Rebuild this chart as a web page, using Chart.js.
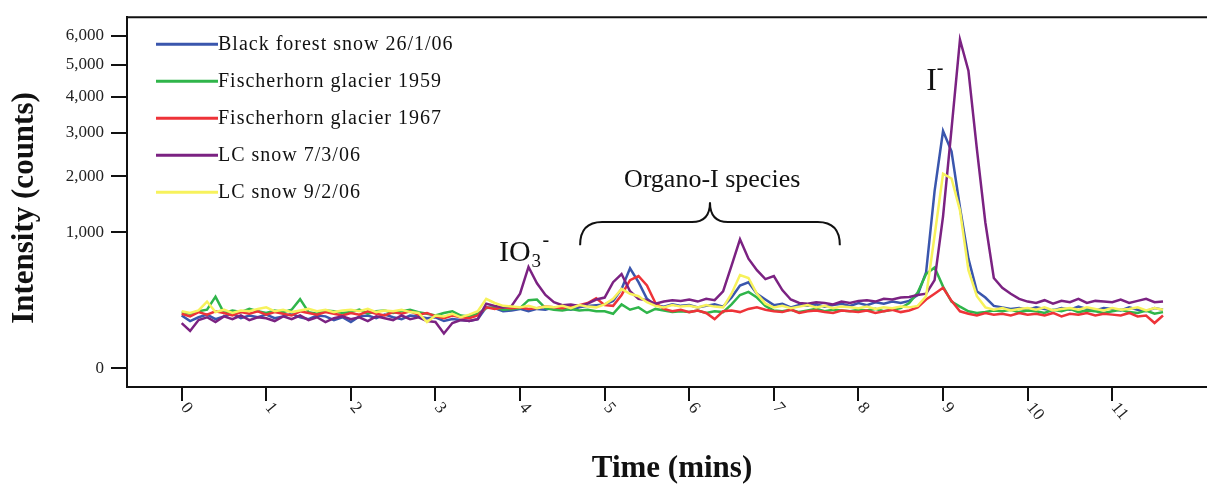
<!DOCTYPE html>
<html>
<head>
<meta charset="utf-8">
<script src="https://cdn.jsdelivr.net/npm/chart.js@4.4.1/dist/chart.umd.min.js"></script>
<style>
    html, body { margin: 0; padding: 0; background: #fff; }
    #wrap { width: 1207px; height: 484px; position: relative; }
</style>
</head>
<body>
<div id="wrap"><canvas id="chart"></canvas></div>
<script>
// retention time (mins)
const times = [
    0.0, 0.1, 0.2, 0.3, 0.4, 0.5, 0.6, 0.7, 0.8, 0.9,
    1.0, 1.1, 1.2, 1.3, 1.4, 1.5, 1.6, 1.7, 1.8, 1.9,
    2.0, 2.1, 2.2, 2.3, 2.4, 2.5, 2.6, 2.7, 2.8, 2.9,
    3.0, 3.1, 3.2, 3.3, 3.4, 3.5, 3.6, 3.7, 3.8, 3.9,
    4.0, 4.1, 4.2, 4.3, 4.4, 4.5, 4.6, 4.7, 4.8, 4.9,
    5.0, 5.1, 5.2, 5.3, 5.4, 5.5, 5.6, 5.7, 5.8, 5.9,
    6.0, 6.1, 6.2, 6.3, 6.4, 6.5, 6.6, 6.7, 6.8, 6.9,
    7.0, 7.1, 7.2, 7.3, 7.4, 7.5, 7.6, 7.7, 7.8, 7.9,
    8.0, 8.1, 8.2, 8.3, 8.4, 8.5, 8.6, 8.7, 8.8, 8.9,
    9.0, 9.1, 9.2, 9.3, 9.4, 9.5, 9.6, 9.7, 9.8, 9.9,
    10.0, 10.1, 10.2, 10.3, 10.4, 10.5, 10.6, 10.7, 10.8, 10.9,
    11.0, 11.1, 11.2, 11.3, 11.4, 11.5, 11.6
];

// intensity (counts)
const blackForest = [
    150, 120, 140, 155, 130, 145, 160, 135, 150, 140,
    155, 135, 145, 160, 140, 130, 150, 145, 125, 140,
    115, 145, 150, 135, 155, 140, 130, 150, 145, 135,
    140, 120, 130, 125, 120, 130, 200, 195, 175, 180,
    190, 175, 190, 185, 200, 195, 185, 200, 210, 215,
    220, 245, 340, 540, 400, 260, 215, 205, 220, 210,
    215, 200, 210, 220, 205, 270, 370, 400, 300, 255,
    215, 225, 200, 215, 210, 220, 205, 215, 225, 210,
    230, 215, 235, 225, 240, 230, 245, 290, 500, 1700,
    3050, 2550, 1400, 650, 320, 270, 210, 200, 190, 195,
    185, 200, 190, 180, 195, 185, 205, 190, 180, 195,
    190, 180, 200, 185, 175, 195, 185
];
const fischerhorn1959 = [
    170, 160, 175, 185, 277, 165, 180, 170, 190, 175,
    165, 180, 170, 185, 258, 170, 160, 180, 175, 165,
    170, 185, 160, 175, 180, 165, 175, 185, 170, 160,
    150, 165, 175, 150, 145, 160, 195, 200, 185, 190,
    195, 250, 255, 195, 185, 180, 190, 180, 185, 175,
    175, 160, 220, 185, 200, 165, 190, 180, 170, 175,
    170, 180, 165, 175, 170, 220, 290, 315, 270, 210,
    180, 175, 185, 170, 180, 190, 175, 185, 180, 175,
    185, 180, 190, 175, 185, 195, 230, 310, 480, 550,
    360, 240, 205, 175, 165, 170, 180, 175, 185, 170,
    180, 175, 165, 185, 175, 190, 170, 180, 175, 165,
    175, 185, 170, 165, 180, 160, 170
];
const fischerhorn1967 = [
    160, 145, 170, 155, 175, 165, 150, 170, 160, 175,
    155, 170, 160, 150, 175, 165, 155, 170, 160, 150,
    165, 155, 175, 160, 150, 170, 160, 175, 155, 165,
    145, 135, 150, 140, 135, 150, 200, 190, 200, 195,
    200, 190, 195, 205, 200, 195, 210, 215, 230, 265,
    215, 210, 290, 420, 460, 370, 230, 190, 175, 185,
    170, 180, 165, 130, 175, 180, 170, 190, 200, 185,
    175, 170, 185, 165, 175, 180, 170, 165, 180, 175,
    170, 180, 165, 175, 185, 170, 180, 200, 255, 300,
    350, 245, 175, 160, 150, 165, 155, 160, 150, 165,
    155, 160, 150, 165, 145, 160, 155, 165, 150, 160,
    155, 150, 165, 145, 150, 110, 150
];
const lcSnow0703 = [
    110, 75, 125, 140, 115, 145, 130, 150, 125, 140,
    135, 120, 145, 130, 150, 125, 140, 115, 135, 145,
    130, 140, 120, 145, 135, 125, 150, 130, 140, 120,
    115, 65, 110, 125, 120, 130, 225, 210, 200, 210,
    300, 555, 390, 290, 235, 215, 220, 210, 225, 255,
    270, 400, 480, 320, 260, 250, 225, 240, 250, 245,
    255, 240, 260, 250, 320, 570, 900, 650, 520, 430,
    460, 330, 255, 230, 225, 235, 230, 220, 240, 230,
    245, 250, 240, 260, 255, 270, 275, 290, 300, 420,
    1250, 3100, 5850, 4800, 2600, 1150, 440, 350, 300, 260,
    240, 230, 250, 225, 245, 235, 260, 230, 245, 240,
    235, 255, 230, 245, 260, 235, 240
];
const lcSnow0902 = [
    175, 165, 180, 240, 170, 185, 165, 180, 175, 190,
    200, 175, 185, 170, 180, 190, 175, 185, 170, 180,
    185, 175, 190, 170, 180, 175, 185, 170, 165, 115,
    150, 145, 160, 140, 155, 175, 260, 230, 210, 205,
    200, 210, 195, 205, 200, 210, 195, 215, 205, 200,
    220, 260, 340, 300, 280, 235, 210, 200, 215, 205,
    210, 200, 215, 205, 200, 300, 470, 440, 300, 225,
    200, 210, 195, 205, 215, 200, 210, 195, 205, 200,
    195, 205, 190, 200, 195, 205, 200, 210, 280, 950,
    2050, 1950, 1350, 520, 280, 200, 185, 195, 180, 190,
    195, 185, 200, 180, 190, 195, 185, 200, 190, 180,
    195, 185, 190, 200, 180, 195, 185
];

const seriesNames = ["Black forest snow 26/1/06", "Fischerhorn glacier 1959", "Fischerhorn glacier 1967", "LC snow 7/3/06", "LC snow 9/2/06"];
const seriesValues = [blackForest, fischerhorn1959, fischerhorn1967, lcSnow0703, lcSnow0902];
const seriesColors = ["#3a56ad", "#2fb54a", "#ee3338", "#7b2282", "#f7f25c"];

const yTickValues = [0, 1000, 2000, 3000, 4000, 5000, 6000];
const yTickLabels = ["0", "1,000", "2,000", "3,000", "4,000", "5,000", "6,000"];
const xTickValues = [0, 1, 2, 3, 4, 5, 6, 7, 8, 9, 10, 11];
const xTickLabels = ["0", "1", "2", "3", "4", "5", "6", "7", "8", "9", "10", "11"];

// intensity axis is square-root scaled
const sqrtOf = v => Math.sqrt(v);

function buildDatasets() {
    return seriesValues.map((values, i) => ({
        label: seriesNames[i],
        data: values.map((v, j) => ({x: times[j], y: sqrtOf(v)})),
        borderColor: seriesColors[i],
        borderWidth: 2.5,
        pointRadius: 0,
        tension: 0,
        fill: false,
        order: seriesValues.length - i
    }));
}

function drawBrace(ctx, x0, xm, x1, yEnd, yBar, yTip) {
    ctx.beginPath();
    ctx.moveTo(x0, yEnd);
    ctx.quadraticCurveTo(x0, yBar, x0 + 22, yBar);
    ctx.lineTo(xm - 18, yBar);
    ctx.quadraticCurveTo(xm, yBar, xm, yTip);
    ctx.quadraticCurveTo(xm, yBar, xm + 18, yBar);
    ctx.lineTo(x1 - 22, yBar);
    ctx.quadraticCurveTo(x1, yBar, x1, yEnd);
    ctx.stroke();
}

const decorations = {
    id: "decorations",
    afterDraw(chart) {
        const ctx = chart.ctx;
        const area = chart.chartArea;
        const xs = chart.scales.x;
        const ys = chart.scales.y;
        const px = t => xs.getPixelForValue(t);
        const py = c => ys.getPixelForValue(sqrtOf(c));

        ctx.save();

        // top frame line
        ctx.strokeStyle = "#111";
        ctx.lineWidth = 2;
        ctx.beginPath();
        ctx.moveTo(area.left - 1, area.top);
        ctx.lineTo(area.right, area.top);
        ctx.stroke();

        // rotated x tick labels
        ctx.fillStyle = "#222";
        ctx.font = "17px 'Liberation Serif'";
        ctx.textAlign = "left";
        ctx.textBaseline = "middle";
        xTickValues.forEach((v, i) => {
            ctx.save();
            ctx.translate(px(v) + 2, area.bottom + 18);
            ctx.rotate(50 * Math.PI / 180);
            ctx.fillText(xTickLabels[i], 0, 0);
            ctx.restore();
        });

        // legend
        ctx.font = "20px 'Liberation Serif'";
        ctx.fillStyle = "#111";
        ctx.letterSpacing = "1px";
        chart.data.datasets.forEach((ds, i) => {
            const ly = area.top + 27 + i * 37;
            ctx.strokeStyle = ds.borderColor;
            ctx.lineWidth = 3;
            ctx.beginPath();
            ctx.moveTo(area.left + 29, ly);
            ctx.lineTo(area.left + 91, ly);
            ctx.stroke();
            ctx.fillText(ds.label, area.left + 91, ly + 1);
        });
        ctx.letterSpacing = "0px";

        // axis titles
        ctx.fillStyle = "#111";
        ctx.font = "bold 31px 'Liberation Serif'";
        ctx.textAlign = "center";
        ctx.textBaseline = "alphabetic";
        ctx.fillText("Time (mins)", 672, 477);
        ctx.save();
        ctx.translate(33, 208);
        ctx.rotate(-Math.PI / 2);
        ctx.fillText("Intensity (counts)", 0, 0);
        ctx.restore();

        // peak labels
        ctx.textAlign = "left";
        ctx.font = "30px 'Liberation Serif'";
        const ioX = px(3.75);
        const ioY = py(620);
        ctx.fillText("IO", ioX, ioY);
        const ioW = ctx.measureText("IO").width;
        ctx.font = "19px 'Liberation Serif'";
        ctx.fillText("3", ioX + ioW + 1, ioY + 6);
        ctx.font = "20px 'Liberation Serif'";
        ctx.fillText("-", ioX + ioW + 12, ioY - 15);

        ctx.font = "32px 'Liberation Serif'";
        const iX = px(8.8);
        const iY = py(4190);
        ctx.fillText("I", iX, iY);
        const iW = ctx.measureText("I").width;
        ctx.font = "20px 'Liberation Serif'";
        ctx.fillText("-", iX + iW, iY - 16);

        ctx.font = "26px 'Liberation Serif'";
        ctx.textAlign = "center";
        ctx.fillText("Organo-I species", px(6.27), py(1789));

        ctx.strokeStyle = "#111";
        ctx.lineWidth = 2;
        drawBrace(ctx, px(4.71), px(6.245), px(7.78), py(818), py(1157), py(1494));

        ctx.restore();
    }
};

function init() {
    const ctx = document.getElementById("chart").getContext("2d");

    new Chart(ctx, {
        type: "line",
        data: {datasets: buildDatasets()},
        options: {
            responsive: true,
            maintainAspectRatio: false,
            animation: false,
            events: [],
            layout: {padding: {top: 16, right: 0, bottom: 0, left: 0}},
            plugins: {
                legend: {display: false},
                tooltip: {enabled: false}
            },
            scales: {
                x: {
                    type: "linear",
                    min: -0.646,
                    max: 12.12,
                    afterBuildTicks: scale => {
                        scale.ticks = xTickValues.map(v => ({value: v}));
                    },
                    afterFit: scale => {
                        scale.height = 97;
                    },
                    ticks: {display: false},
                    grid: {drawOnChartArea: false, drawTicks: true, tickLength: 14, color: "#111", lineWidth: 2},
                    border: {display: true, color: "#111", width: 2}
                },
                y: {
                    type: "linear",
                    min: -4.41,
                    max: 81.74,
                    afterBuildTicks: scale => {
                        scale.ticks = yTickValues.map(v => ({value: sqrtOf(v)}));
                    },
                    afterFit: scale => {
                        scale.width = 127;
                    },
                    ticks: {
                        padding: 7,
                        color: "#222",
                        font: {family: "'Liberation Serif'", size: 17},
                        callback: (value, index) => yTickLabels[index]
                    },
                    grid: {drawOnChartArea: false, drawTicks: true, tickLength: 16, color: "#111", lineWidth: 2},
                    border: {display: true, color: "#111", width: 2}
                }
            }
        },
        plugins: [decorations]
    });
}

init();
</script>
</body>
</html>
